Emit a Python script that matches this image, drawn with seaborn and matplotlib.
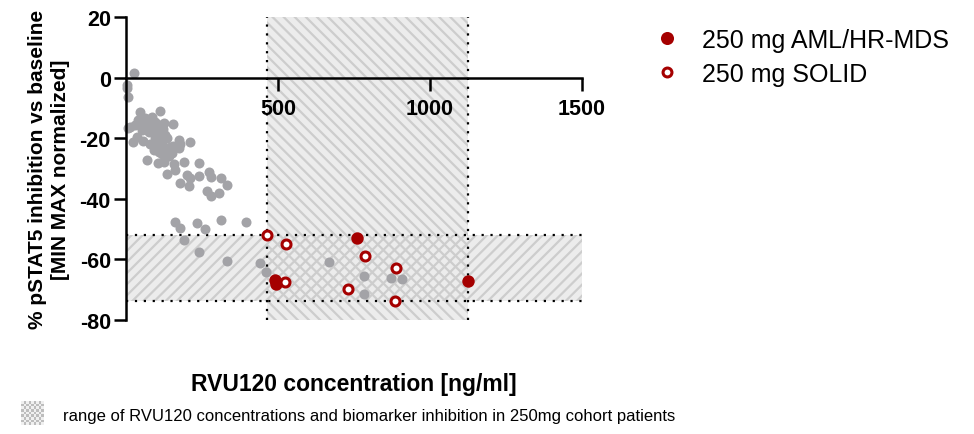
import numpy as np
import seaborn as sns
import matplotlib.pyplot as plt
from matplotlib.patches import Rectangle
from matplotlib.lines import Line2D
from matplotlib.colors import ListedColormap


# other dose cohorts (gray)
other_conc = [26, 4, 2, 5,
              8, 13, 30, 46, 63, 85, 68, 52, 90, 96, 113, 101, 124, 153,
              24, 35, 57, 107, 118, 135, 146, 175, 179, 173, 212, 156, 134, 107, 118,
              68, 104, 157, 190, 240, 135, 162, 201, 212, 240, 272, 278, 179, 206,
              311, 333, 265, 306, 278,
              75, 80, 95, 110, 120, 40, 128, 140, 92, 125, 150, 60, 100, 115,
              160, 178, 190, 233, 259, 241, 311, 331, 393, 440, 461,
              668, 783, 783, 872, 907]
other_inh = [1.6, -2.5, -3.5, -6.4,
             -16.5, -16.3, -15.7, -11.3, -13.5, -13.0, -15.7, -17.4, -17.4, -14.6, -11.0, -15.4, -15.0, -15.2,
             -21.4, -19.6, -21.0, -19.6, -21.8, -20.1, -22.9, -20.5, -22.0, -23.4, -21.2, -22.5, -23.6, -24.5, -25.3,
             -27.2, -28.2, -28.4, -27.8, -28.2, -31.7, -30.6, -32.2, -33.3, -32.6, -31.0, -32.8, -34.8, -35.8,
             -33.2, -35.3, -37.4, -38.0, -39.0,
             -18.0, -22.0, -20.0, -18.0, -17.0, -14.0, -19.0, -26.0, -24.0, -28.0, -25.0, -16.0, -22.0, -23.0,
             -47.6, -49.5, -53.5, -48.1, -50.0, -57.4, -47.0, -60.4, -47.6, -61.3, -64.1,
             -61.0, -65.5, -71.4, -66.1, -66.4]

# 250 mg cohort
aml_conc = [759, 490, 492, 1124]
aml_inh = [-52.9, -66.8, -68.2, -67.0]
solid_conc = [463, 526, 786, 888, 523, 729, 885]
solid_inh = [-52.0, -55.0, -59.0, -63.0, -67.4, -69.9, -73.8]

x_ticks = [500, 1000, 1500]
y_ticks = [-80, -60, -40, -20, 0, 20]

sns.set_style('white')
plt.rcParams['font.family'] = ['Liberation Sans', 'DejaVu Sans']
plt.rcParams['hatch.linewidth'] = 1.6
plt.rcParams['axes.unicode_minus'] = False
plt.rcParams['text.color'] = 'black'
plt.rcParams['xtick.color'] = 'black'
plt.rcParams['ytick.color'] = 'black'

RED = '#a50000'

fig = plt.figure(figsize=(9.74, 4.35), dpi=100)
ax = fig.add_axes([0.1294, 0.2621, 0.4682, 0.6966])

# range of the 250mg cohort (min/max of both groups)
all_x = aml_conc + solid_conc
all_y = aml_inh + solid_inh
x_lo, x_hi = min(all_x), max(all_x)
y_lo, y_hi = min(all_y), max(all_y)

# fill first, hatches on top so the overlap gets the cross pattern
for fc, hatch, z in [('#ececec', None, 0), ('none', '\\\\\\', 0.5)]:
    ax.add_patch(Rectangle((x_lo, -80), x_hi - x_lo, 100, facecolor=fc, edgecolor='#cdcdcd',
                           hatch=hatch, lw=0, zorder=z))
for fc, hatch, z in [('#ececec', None, 0), ('none', '///', 0.5)]:
    ax.add_patch(Rectangle((0, y_lo), 1500, y_hi - y_lo, facecolor=fc, edgecolor='#cdcdcd',
                           hatch=hatch, lw=0, zorder=z))

for xv in (x_lo, x_hi):
    ax.axvline(xv, color='black', lw=1.6, ls=(0, (1, 3)), zorder=1)
for yv in (y_lo, y_hi):
    ax.axhline(yv, color='black', lw=1.6, ls=(0, (1, 3)), zorder=1)

sns.scatterplot(x=other_conc, y=other_inh, color='#a3a3a7', s=52, linewidth=0, ax=ax, zorder=3, clip_on=False)
sns.scatterplot(x=aml_conc, y=aml_inh, color=RED, s=80, linewidth=0, ax=ax, zorder=4, clip_on=False)
sns.scatterplot(x=solid_conc, y=solid_inh, color=RED, facecolor='white', edgecolor=RED, s=42,
                linewidth=2.2, ax=ax, zorder=4, clip_on=False)

ax.set_xlim(0, 1500)
ax.set_ylim(-80, 20)
ax.set_xticks(x_ticks)
ax.set_yticks(y_ticks)
ax.spines['left'].set_position(('data', 0))
ax.spines['bottom'].set_position(('data', 0))
ax.spines['top'].set_visible(False)
ax.spines['right'].set_visible(False)
for side in ('left', 'bottom'):
    ax.spines[side].set_linewidth(1.8)
    ax.spines[side].set_color('black')
    ax.spines[side].set_zorder(5)
ax.tick_params(axis='both', direction='out', length=9, width=1.8, labelsize=15.5,
               color='black', labelcolor='black', bottom=True, left=True)
ax.tick_params(axis='x', pad=6)
ax.tick_params(axis='y', pad=2)
for lbl in ax.get_xticklabels() + ax.get_yticklabels():
    lbl.set_fontweight('bold')
ax.set_xlabel('')
ax.set_ylabel('')

fig.text(49 / 974, 0.61, '% pSTAT5 inhibition vs baseline\n[MIN MAX normalized]', rotation=90,
         ha='center', va='center', multialignment='center', fontsize=15, fontweight='bold',
         linespacing=1.25)
fig.text(354 / 974, 1 - 385 / 435, 'RVU120 concentration [ng/ml]', ha='center', va='center',
         fontsize=16.5, fontweight='bold')

handles = [Line2D([], [], ls='', marker='o', markersize=9.4, color=RED, mew=0),
           Line2D([], [], ls='', marker='o', markersize=6.4, mfc='white', mec=RED, mew=2.2)]
leg = ax.legend(handles, ['250 mg AML/HR-MDS', '250 mg SOLID'], loc='upper left',
                bbox_to_anchor=(0.672, 0.933), bbox_transform=fig.transFigure, frameon=False,
                fontsize=18, handlelength=1, handletextpad=0.9, labelspacing=0.38,
                borderpad=0, borderaxespad=0)
for t in leg.get_texts():
    t.set_color('black')

# checkered legend swatch for the shaded range
cax = fig.add_axes([20.7 / 974, 1 - 425.7 / 435, 22.6 / 974, 23.4 / 435])
checker = np.indices((9, 9)).sum(axis=0) % 2
cax.imshow(checker, cmap=ListedColormap(['#f0f0f0', '#bdbdbd']), aspect='auto', interpolation='nearest')
cax.axis('off')
fig.text(63 / 974, 1 - 421 / 435,
         'range of RVU120 concentrations and biomarker inhibition in 250mg cohort patients',
         ha='left', va='baseline', fontsize=12)

fig.savefig('out.png', dpi=100)
